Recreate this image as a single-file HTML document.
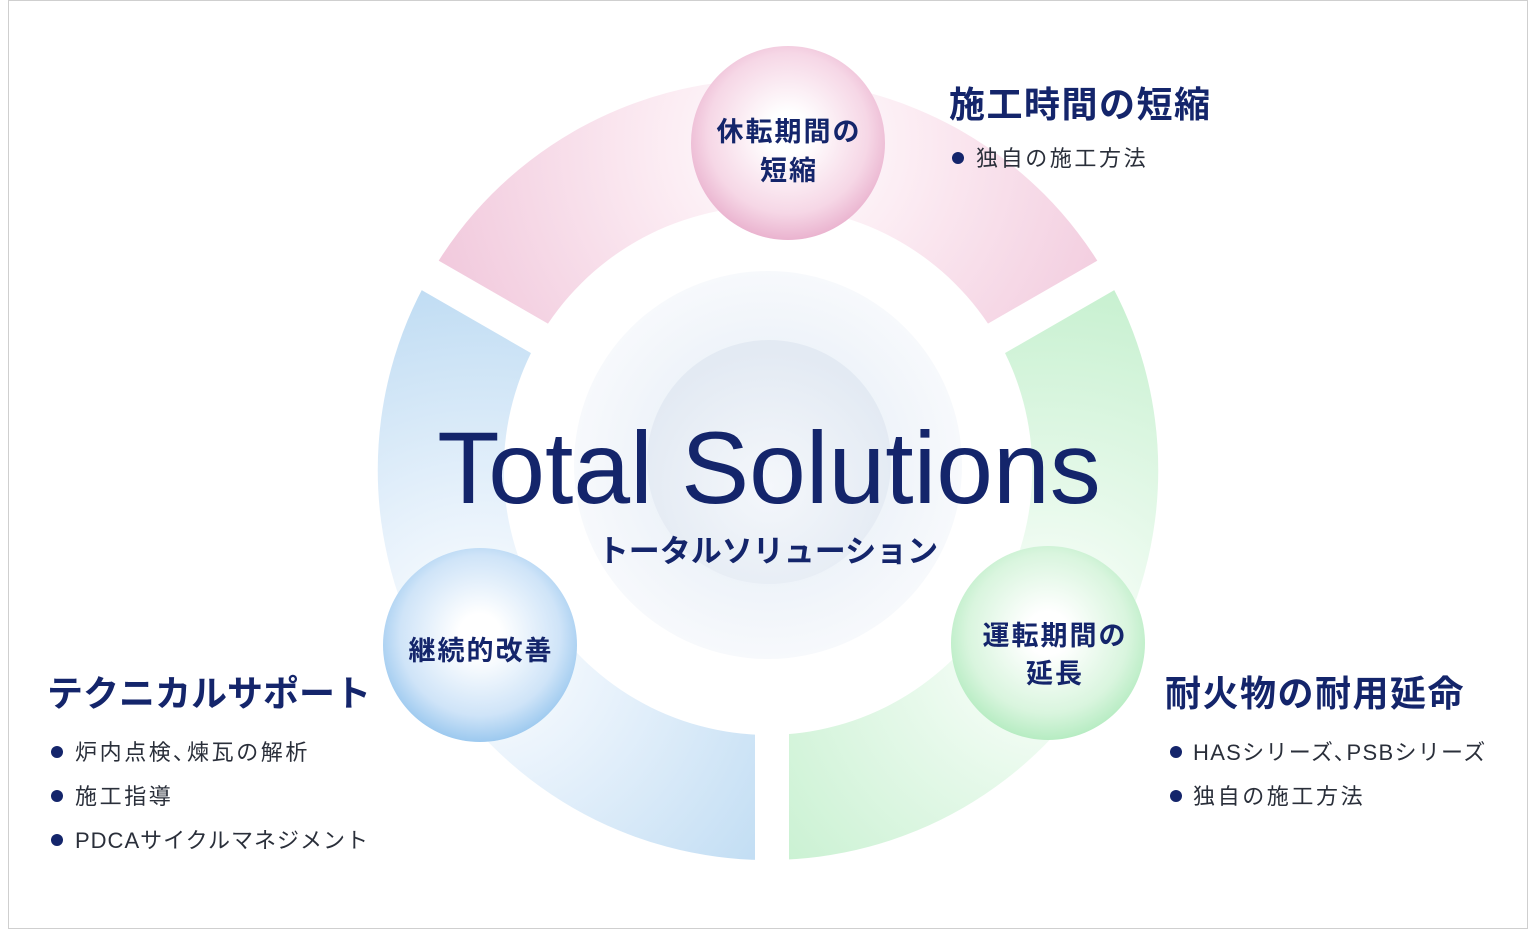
<!DOCTYPE html>
<html><head><meta charset="utf-8"><style>
html,body{margin:0;padding:0;background:#fff;}
svg{display:block}
text{font-family:"Liberation Sans","Noto Sans CJK JP",sans-serif;}
</style></head><body>
<svg width="1536" height="930" viewBox="0 0 1536 930" xmlns="http://www.w3.org/2000/svg">
<defs>
<radialGradient id="gp" cx="788" cy="143" r="420" gradientUnits="userSpaceOnUse">
<stop offset="0" stop-color="#ffffff"/><stop offset="0.35" stop-color="#fbe9f1"/><stop offset="1" stop-color="#efc2d8"/></radialGradient>
<radialGradient id="gb" cx="480" cy="645" r="420" gradientUnits="userSpaceOnUse">
<stop offset="0" stop-color="#ffffff"/><stop offset="0.35" stop-color="#e6f1fb"/><stop offset="1" stop-color="#b6d7f1"/></radialGradient>
<radialGradient id="gg" cx="1048" cy="643" r="420" gradientUnits="userSpaceOnUse">
<stop offset="0" stop-color="#ffffff"/><stop offset="0.35" stop-color="#e6f9ea"/><stop offset="1" stop-color="#bfeec9"/></radialGradient>
<radialGradient id="bp" cx="0.5" cy="0.45" r="0.55">
<stop offset="0.2" stop-color="#ffffff"/><stop offset="0.75" stop-color="#f6d7e6"/><stop offset="1" stop-color="#eab3cf"/></radialGradient>
<radialGradient id="bb" cx="0.5" cy="0.45" r="0.55">
<stop offset="0.2" stop-color="#ffffff"/><stop offset="0.75" stop-color="#cfe4f8"/><stop offset="1" stop-color="#9cc9ef"/></radialGradient>
<radialGradient id="bg" cx="0.5" cy="0.45" r="0.55">
<stop offset="0.2" stop-color="#ffffff"/><stop offset="0.75" stop-color="#d9f5de"/><stop offset="1" stop-color="#b6ecc2"/></radialGradient>
<radialGradient id="c1" cx="0.5" cy="0.5" r="0.5">
<stop offset="0.6" stop-color="#eef3f9"/><stop offset="1" stop-color="#f7f9fc"/></radialGradient>
<radialGradient id="c2" cx="0.5" cy="0.6" r="0.55">
<stop offset="0" stop-color="#f4f7fb"/><stop offset="1" stop-color="#e3eaf3"/></radialGradient>
</defs>
<rect x="8.5" y="0.5" width="1519" height="928" fill="#fff" stroke="#cfcfcf"/>
<path d="M 430 275 A 390 390 0 0 1 1106 275 L 997 338 A 265 265 0 0 0 539 338 Z" fill="url(#gp)"/>
<path d="M 430 275 A 390 390 0 0 0 768 860 L 768 735 A 265 265 0 0 1 539 338 Z" fill="url(#gb)"/>
<path d="M 1106 275 A 390 390 0 0 1 768 860 L 768 735 A 265 265 0 0 0 997 338 Z" fill="url(#gg)"/>
<g stroke="#fff" stroke-width="34">
<line x1="768" y1="470" x2="400" y2="258"/>
<line x1="768" y1="470" x2="1136" y2="258"/>
<line x1="772" y1="470" x2="772" y2="880"/>
</g>
<circle cx="768" cy="465" r="194" fill="url(#c1)"/>
<circle cx="769" cy="462" r="122" fill="url(#c2)"/>
<text x="769" y="503" font-size="102" fill="#14256b" text-anchor="middle">Total Solutions</text>
<text x="768" y="562" font-size="31" font-weight="bold" fill="#14256b" text-anchor="middle">トータルソリューション</text>
<circle cx="788" cy="143" r="97" fill="url(#bp)"/>
<circle cx="480" cy="645" r="97" fill="url(#bb)"/>
<circle cx="1048" cy="643" r="97" fill="url(#bg)"/>
<g font-size="27" font-weight="bold" fill="#14256b" text-anchor="middle" letter-spacing="2">
<text x="789" y="141">休転期間の</text><text x="789" y="180">短縮</text>
<text x="481" y="660">継続的改善</text>
<text x="1055" y="645">運転期間の</text><text x="1055" y="683">延長</text>
</g>
<g font-size="36" font-weight="bold" fill="#14256b">
<text x="949" y="117" letter-spacing="1.5">施工時間の短縮</text>
<text x="47" y="706">テクニカルサポート</text>
<text x="1165" y="706" letter-spacing="1.5">耐火物の耐用延命</text>
</g>
<g fill="#14256b">
<circle cx="958" cy="158" r="6"/>
<circle cx="57" cy="752" r="6"/><circle cx="57" cy="796" r="6"/><circle cx="57" cy="840" r="6"/>
<circle cx="1176" cy="752" r="6"/><circle cx="1176" cy="796" r="6"/>
</g>
<g font-size="22" fill="#2a2f3a" letter-spacing="2.6">
<text x="976" y="166">独自の施工方法</text>
<text x="75" y="760">炉内点検､煉瓦の解析</text>
<text x="75" y="804">施工指導</text>
<text x="75" y="848" letter-spacing="1">PDCAサイクルマネジメント</text>
<text x="1193" y="760" letter-spacing="1.3">HASシリーズ､PSBシリーズ</text>
<text x="1193" y="804">独自の施工方法</text>
</g>
</svg>
</body></html>
